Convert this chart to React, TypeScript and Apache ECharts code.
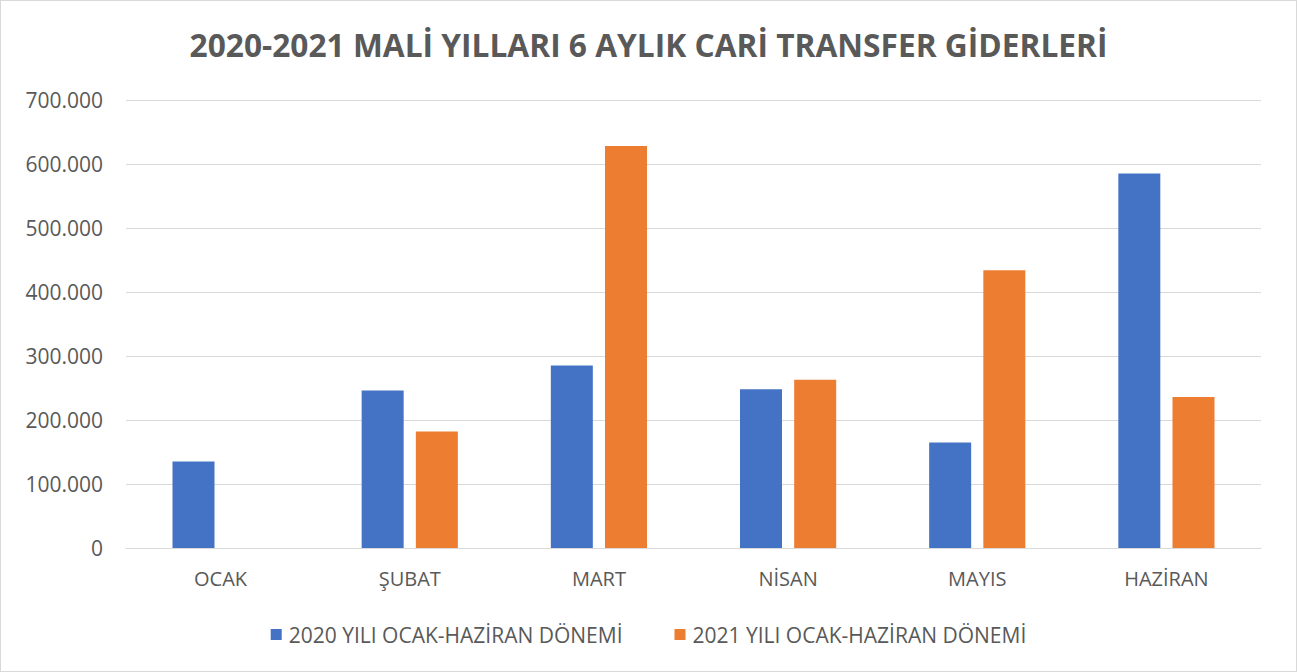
import React, { useEffect, useRef } from "react";
import * as echarts from "echarts";

const titleText = "2020-2021 MALİ YILLARI 6 AYLIK CARİ TRANSFER GİDERLERİ";
const months = ["OCAK", "ŞUBAT", "MART", "NİSAN", "MAYIS", "HAZİRAN"];
const seriesNames = ["2020 YILI OCAK-HAZİRAN DÖNEMİ", "2021 YILI OCAK-HAZİRAN DÖNEMİ"];
const values2020 = [135000, 246000, 285000, 248000, 165000, 585000];
const values2021 = [null, 182000, 628000, 263000, 434000, 236000];
const colors = ["#4472C4", "#ED7D31"];

const FONT = "'Open Sans', sans-serif";
const TEXT = "#595959";

function fmt(v: number): string {
  return String(Math.round(v)).replace(/\B(?=(\d{3})+(?!\d))/g, ".");
}

export default function App() {
  const ref = useRef<HTMLDivElement>(null);
  useEffect(() => {
    document.body.style.margin = "0";
    const chart = echarts.init(ref.current!, null, { renderer: "svg" });
    chart.setOption({
      animation: false,
      backgroundColor: "#ffffff",
      title: {
        text: titleText,
        left: "center",
        top: 22,
        textStyle: { fontFamily: FONT, fontWeight: "bold", fontSize: 31.7, color: TEXT },
      },
      legend: {
        bottom: 21,
        left: "center",
        itemWidth: 11,
        itemHeight: 11,
        itemGap: 52,
        icon: "rect",
        textStyle: { fontFamily: FONT, fontSize: 21, color: TEXT, padding: [0, 0, 0, 2] },
        data: seriesNames,
      },
      grid: { left: 125, right: 35, top: 99, bottom: 123, containLabel: false },
      xAxis: {
        type: "category",
        data: months,
        axisLine: { show: true, lineStyle: { color: "#D9D9D9", width: 1 } },
        axisTick: { show: false },
        axisLabel: { fontFamily: FONT, fontSize: 20, color: TEXT, margin: 20 },
      },
      yAxis: {
        type: "value",
        min: 0,
        max: 700000,
        interval: 100000,
        axisLine: { show: false },
        axisTick: { show: false },
        splitLine: { lineStyle: { color: "#D9D9D9", width: 1 } },
        axisLabel: { fontFamily: FONT, fontSize: 21, color: TEXT, margin: 23, formatter: (v: number) => fmt(v) },
      },
      series: [
        {
          name: seriesNames[0],
          type: "bar",
          data: values2020,
          barWidth: 42,
          barGap: "29%",
          itemStyle: { color: colors[0] },
        },
        {
          name: seriesNames[1],
          type: "bar",
          data: values2021,
          barWidth: 42,
          barGap: "29%",
          itemStyle: { color: colors[1] },
        },
      ],
    });
    return () => chart.dispose();
  }, []);
  return (
    <div
      ref={ref}
      style={{
        position: "absolute",
        left: 0,
        top: 0,
        width: 1295,
        height: 670,
        border: "1px solid #D9D9D9",
      }}
    />
  );
}
